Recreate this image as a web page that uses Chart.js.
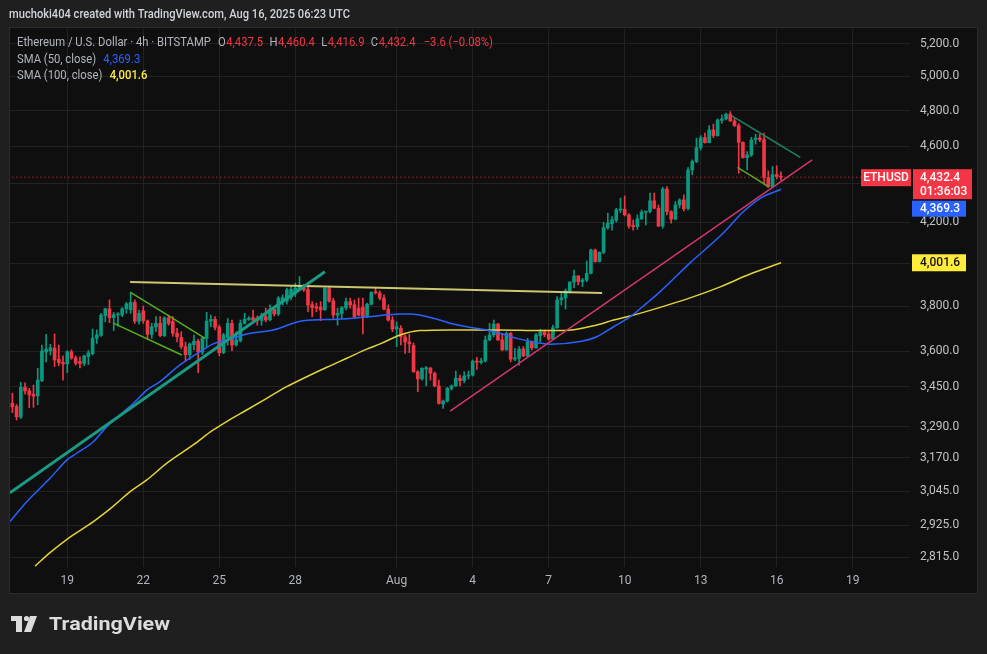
<!DOCTYPE html>
<html>
<head>
<meta charset="utf-8">
<title>ETHUSD 4h - BITSTAMP</title>
<script src="https://cdn.jsdelivr.net/npm/chart.js@4.4.1/dist/chart.umd.min.js"></script>
<style>
  html, body { margin: 0; padding: 0; background: #1f1f1f; }
  #wrap { width: 987px; height: 654px; position: relative; }
</style>
</head>
<body>
<div id="wrap"><canvas id="ethChart"></canvas></div>
<script>
// Candle times are in days counted from "July 0" (Aug 1 = 32), one candle every 4h
const firstCandleDay = 16 + 20 / 24;   // Jul 16, 20:00
const candleStep = 4 / 24;

const opens = [
  3383,3370,3328,3448,3434,3420,3413,3476,3597,3602,
  3614,3566,3552,3546,3598,3572,3556,3548,3577,3590,
  3657,3669,3757,3787,3748,3760,3760,3787,3783,3816,
  3731,3778,3733,3673,3706,3722,3668,3747,3730,3678,
  3660,3620,3585,3628,3644,3596,3656,3732,3740,3706,
  3594,3660,3722,3628,3645,3722,3739,3748,3745,3735,
  3752,3738,3786,3764,3818,3822,3840,3860,3876,3892,
  3876,3806,3797,3795,3783,3880,3824,3759,3766,3792,
  3820,3806,3790,3795,3754,3808,3866,3860,3836,3786,
  3737,3697,3700,3662,3640,3625,3513,3483,3524,3528,
  3507,3454,3380,3392,3444,3454,3486,3476,3495,3499,
  3558,3553,3558,3649,3671,3719,3649,3606,3678,3566,
  3570,3610,3580,3641,3615,3668,3685,3675,3653,3703,
  3828,3838,3869,3910,3939,3912,3920,3951,4063,4007,
  4052,4173,4193,4210,4262,4266,4237,4184,4178,4217,
  4251,4255,4309,4271,4181,4370,4254,4216,4288,4314,
  4270,4471,4516,4592,4647,4619,4690,4658,4744,4752,
  4779,4741,4714,4621,4537,4552,4636,4645,4636,4430,
  4383,4446,4437.5
];
const highs = [
  3424,3378,3469,3467,3444,3457,3528,3627,3674,3630,
  3675,3627,3580,3603,3606,3580,3576,3584,3603,3697,
  3693,3767,3790,3828,3771,3770,3793,3816,3859,3828,
  3782,3800,3737,3722,3752,3752,3752,3759,3752,3700,
  3685,3640,3636,3670,3652,3663,3771,3759,3752,3714,
  3678,3744,3737,3685,3737,3767,3752,3782,3755,3767,
  3790,3805,3797,3843,3851,3882,3889,3905,3936,3900,
  3897,3820,3813,3820,3884,3887,3836,3790,3797,3836,
  3836,3828,3836,3836,3813,3866,3882,3869,3851,3805,
  3752,3729,3712,3671,3674,3636,3518,3530,3535,3532,
  3512,3478,3396,3448,3458,3516,3499,3513,3516,3563,
  3574,3570,3666,3722,3737,3722,3678,3685,3682,3613,
  3620,3620,3656,3645,3678,3696,3693,3687,3714,3843,
  3859,3878,3912,3967,3941,3928,4010,4068,4067,4054,
  4200,4246,4228,4271,4323,4334,4244,4211,4237,4263,
  4257,4349,4349,4287,4380,4383,4258,4305,4319,4340,
  4483,4525,4644,4658,4672,4714,4723,4752,4775,4785,
  4794,4756,4725,4624,4570,4649,4666,4666,4672,4466,
  4489,4493,4460.4
];
const lows = [
  3345,3316,3322,3420,3365,3367,3377,3472,3555,3584,
  3535,3538,3478,3509,3566,3541,3529,3539,3543,3584,
  3634,3664,3729,3725,3690,3710,3752,3767,3767,3722,
  3719,3722,3652,3656,3685,3663,3664,3714,3666,3641,
  3610,3556,3565,3606,3509,3586,3617,3707,3693,3580,
  3590,3627,3603,3622,3640,3719,3735,3729,3714,3714,
  3729,3733,3755,3757,3805,3808,3828,3843,3869,3866,
  3774,3752,3774,3734,3780,3817,3744,3714,3744,3782,
  3790,3744,3755,3675,3747,3805,3855,3828,3782,3732,
  3685,3620,3627,3591,3594,3510,3430,3478,3455,3478,
  3450,3380,3362,3388,3437,3452,3454,3467,3483,3495,
  3523,3546,3554,3646,3662,3647,3603,3604,3555,3560,
  3541,3577,3577,3606,3612,3641,3663,3648,3651,3700,
  3805,3786,3859,3884,3897,3889,3912,3949,4005,4005,
  4044,4165,4161,4200,4249,4232,4170,4160,4165,4214,
  4186,4247,4268,4178,4170,4237,4195,4212,4272,4257,
  4262,4445,4510,4579,4616,4617,4647,4655,4728,4746,
  4737,4709,4453,4534,4471,4543,4611,4625,4395,4378,
  4378,4423,4416.9
];
const closes = [
  3369,3329,3448,3433,3417,3412,3478,3601,3609,3615,
  3563,3551,3546,3598,3571,3549,3548,3580,3593,3657,
  3671,3759,3787,3747,3761,3764,3787,3810,3816,3732,
  3767,3734,3674,3707,3722,3668,3747,3722,3678,3663,
  3620,3585,3632,3644,3598,3656,3732,3740,3705,3594,
  3671,3722,3627,3649,3722,3740,3745,3737,3735,3752,
  3737,3786,3764,3836,3838,3874,3877,3882,3894,3874,
  3805,3793,3790,3782,3882,3823,3759,3767,3793,3820,
  3805,3752,3759,3752,3808,3862,3860,3836,3786,3737,
  3697,3707,3663,3640,3632,3513,3483,3528,3530,3507,
  3454,3383,3392,3444,3454,3486,3476,3495,3499,3558,
  3553,3558,3649,3671,3719,3649,3606,3678,3566,3572,
  3609,3580,3641,3615,3671,3685,3672,3653,3703,3828,
  3838,3869,3910,3939,3912,3920,3951,4063,4007,4052,
  4173,4195,4212,4263,4266,4237,4181,4178,4217,4251,
  4255,4309,4271,4181,4370,4254,4216,4288,4314,4268,
  4471,4516,4592,4647,4619,4690,4658,4746,4752,4779,
  4741,4714,4621,4537,4552,4634,4645,4636,4430,4383,
  4446,4436,4432.4
];

// SMA curves (day, price)
const sma50Days = [16.74,17.40,17.79,18.32,18.98,19.37,20.03,20.56,21.08,21.61,22.14,22.66,23.45,24.24,24.76,25.55,26.08,27.13,28.32,29.64,30.95,32.14,32.53,33.45,34.11,34.77,35.56,36.08,36.74,37.66,38.06,39.24,39.90,40.56,41.22,41.87,42.40,43.58,44.84,45.69,46.35,47.17];
const sma50Values = [2937,3008,3044,3093,3161,3187,3231,3290,3336,3383,3437,3472,3542,3598,3632,3656,3675,3693,3734,3740,3752,3764,3764,3745,3723,3707,3693,3678,3656,3635,3630,3642,3663,3707,3752,3813,3866,4001,4140,4254,4322,4369.3];
const sma100Days = [17.73,18.32,19.04,20.03,20.82,21.48,22.14,22.92,23.97,24.76,25.29,26.08,26.87,27.66,28.45,29.24,30.03,30.82,31.35,32.14,32.93,34.11,36.08,37.66,38.58,39.90,40.56,41.22,42.40,43.58,44.77,45.95,47.17];
const sma100Values = [2785,2830,2879,2937,2992,3044,3087,3149,3219,3277,3310,3356,3403,3451,3492,3532,3570,3609,3632,3671,3690,3693,3693,3690,3690,3715,3737,3755,3794,3837,3888,3948,4001.6];

// hand-drawn trend lines: [start, end]
const tealLineDays = [16.74, 29.17],   tealLineValues = [3040, 3959];
const levelLineDays = [21.48, 40.11],  levelLineValues = [3911, 3860];
const flagTopDays = [21.48, 24.44],    flagTopValues = [3864, 3656];
const flagBottomDays = [20.82, 23.52], flagBottomValues = [3723, 3584];
const pinkLineDays = [34.11, 48.40],   pinkLineValues = [3352, 4525];
const wedgeTopDays = [45.23, 47.93],   wedgeTopValues = [4769, 4539];
const wedgeBottomDays = [45.45, 46.68], wedgeBottomValues = [4485, 4382];

const dayTicks = [19, 22, 25, 28, 32, 35, 38, 41, 44, 47, 50];
const dayLabels = ['19', '22', '25', '28', 'Aug', '4', '7', '10', '13', '16', '19'];
const priceTicks = [2815, 2925, 3045, 3170, 3290, 3450, 3600, 3800, 4000, 4200, 4400, 4600, 4800, 5000, 5200];

const UP = '#089981';
const DOWN = '#f23645';
const TEXT = '#b2b5be';

Chart.defaults.font.family = 'Roboto, "Liberation Sans", sans-serif';

const last = closes.length - 1;
const candleDays = opens.map((o, i) => firstCandleDay + i * candleStep);
const candleColors = opens.map((o, i) => closes[i] >= o ? UP : DOWN);

function fmt(v) {
    return v.toLocaleString('en-US', { minimumFractionDigits: 1, maximumFractionDigits: 1 });
}

function lineSet(days, values, color, width, order, dash) {
    return {
        type: 'line',
        data: days.map((d, i) => ({ x: d, y: values[i] })),
        borderColor: color,
        borderWidth: width,
        borderDash: dash || [],
        pointRadius: 0,
        fill: false,
        cubicInterpolationMode: 'monotone',
        order: order
    };
}

function box(ctx, x, y, w, h, bg) {
    ctx.fillStyle = bg;
    ctx.fillRect(x, y, w, h);
}

// text squeezed (or stretched) sideways to a given width, keeps the height
function fitText(ctx, text, x, y, width) {
    const w = ctx.measureText(text).width;
    ctx.save();
    ctx.translate(x, y);
    ctx.scale(width / w, 1);
    ctx.fillText(text, 0, 0);
    ctx.restore();
}

// background, header, legend, price labels and logo
const tvDecor = {
    id: 'tvDecor',
    beforeDraw(chart) {
        const ctx = chart.ctx;
        ctx.save();
        ctx.fillStyle = '#1f1f1f';
        ctx.fillRect(0, 0, chart.width, chart.height);
        ctx.fillStyle = '#0f0f0f';
        ctx.fillRect(10, 28, 967, 565);
        ctx.strokeStyle = '#2c2c2c';
        ctx.lineWidth = 1;
        ctx.strokeRect(9.5, 27.5, 968, 566);
        ctx.restore();
    },
    afterDraw(chart) {
        const ctx = chart.ctx;
        const yScale = chart.scales.y;
        ctx.save();
        ctx.textBaseline = 'middle';

        // header
        ctx.font = '500 13px Roboto';
        ctx.fillStyle = '#d1d4dc';
        fitText(ctx, 'muchoki404 created with TradingView.com, Aug 16, 2025 06:23 UTC', 9, 15, 341);

        // legend, squeezed as one block so line 1 spans like the original
        const change = closes[last] - closes[last - 1];
        const pct = change / closes[last - 1] * 100;
        const sign = (v, d) => (v < 0 ? '\u2212' : '+') + Math.abs(v).toFixed(d);
        const parts = [
            ['Ethereum / U.S. Dollar \u00b7 4h \u00b7 BITSTAMP', TEXT, 8],
            ['O', TEXT, 0.5], [fmt(opens[last]), DOWN, 7],
            ['H', TEXT, 0.5], [fmt(highs[last]), DOWN, 7],
            ['L', TEXT, 0.5], [fmt(lows[last]), DOWN, 7],
            ['C', TEXT, 0.5], [fmt(closes[last]), DOWN, 9],
            [sign(change, 1) + ' (' + sign(pct, 2) + '%)', DOWN, 0]
        ];
        ctx.font = '12.5px Roboto';
        let total = 0;
        parts.forEach(p => { total += ctx.measureText(p[0]).width + p[2]; });
        ctx.translate(17, 0);
        ctx.scale(476 / total, 1);
        let x = 0;
        parts.forEach(p => {
            ctx.fillStyle = p[1];
            ctx.fillText(p[0], x, 43);
            x += ctx.measureText(p[0]).width + p[2];
        });
        ctx.fillStyle = TEXT;
        ctx.fillText('SMA (50, close)', 0, 59.5);
        let w = ctx.measureText('SMA (50, close)').width;
        ctx.fillStyle = '#2962ff';
        ctx.fillText(fmt(sma50Values[sma50Values.length - 1]), w + 8, 59.5);
        ctx.fillStyle = TEXT;
        ctx.fillText('SMA (100, close)', 0, 76);
        w = ctx.measureText('SMA (100, close)').width;
        ctx.fillStyle = '#ffeb3b';
        ctx.font = '500 12.5px Roboto';
        ctx.fillText(fmt(sma100Values[sma100Values.length - 1]), w + 8, 76);
        ctx.setTransform(1, 0, 0, 1, 0, 0);
        ctx.scale(chart.currentDevicePixelRatio, chart.currentDevicePixelRatio);

        // price labels on the right axis
        const py = yScale.getPixelForValue(closes[last]);
        box(ctx, 861, py - 8, 50, 17, DOWN);
        box(ctx, 913, py - 8, 59, 30, DOWN);
        ctx.fillStyle = '#ffffff';
        ctx.font = '500 12px Roboto';
        ctx.textAlign = 'center';
        ctx.fillText('ETHUSD', 886, py + 0.5);
        ctx.textAlign = 'left';
        ctx.fillText(fmt(closes[last]), 920, py + 0.5);
        ctx.fillText('01:36:03', 920, py + 14.5);

        const by = Math.max(yScale.getPixelForValue(sma50Values[sma50Values.length - 1]) - 8, py + 23.5);
        box(ctx, 912, by, 54, 16, '#2962ff');
        ctx.fillStyle = '#ffffff';
        ctx.fillText(fmt(sma50Values[sma50Values.length - 1]), 920, by + 8.5);

        const yy = yScale.getPixelForValue(sma100Values[sma100Values.length - 1]);
        box(ctx, 912, yy - 8.5, 54, 17, '#ffeb3b');
        ctx.fillStyle = '#131313';
        ctx.fillText(fmt(sma100Values[sma100Values.length - 1]), 920, yy + 0.5);

        // TradingView logo
        ctx.fillStyle = '#dcdcdc';
        ctx.fillRect(11, 616, 11, 5);
        ctx.fillRect(16, 616, 6, 16);
        ctx.beginPath();
        ctx.arc(26.5, 618.5, 2.6, 0, Math.PI * 2);
        ctx.fill();
        ctx.beginPath();
        ctx.moveTo(30, 616);
        ctx.lineTo(37, 616);
        ctx.lineTo(31, 632);
        ctx.lineTo(24, 632);
        ctx.closePath();
        ctx.fill();
        ctx.font = 'bold 19px Roboto';
        fitText(ctx, 'TradingView', 49, 625, 121);
        ctx.restore();
    }
};

new Chart(document.getElementById('ethChart'), {
    type: 'bar',
    data: {
        datasets: [
            // wicks
            {
                data: candleDays.map((d, i) => ({ x: d, y: [lows[i], highs[i]] })),
                backgroundColor: candleColors,
                barThickness: 1,
                grouped: false,
                order: 4
            },
            // bodies
            {
                data: candleDays.map((d, i) => ({ x: d, y: [opens[i], closes[i]] })),
                backgroundColor: candleColors,
                barThickness: 3,
                minBarLength: 1,
                grouped: false,
                order: 3
            },
            lineSet([candleDays[0], 52.3], [closes[last], closes[last]], DOWN, 1, 6, [1, 3]),
            lineSet(sma50Days, sma50Values, '#2962ff', 1.5, 2),
            lineSet(sma100Days, sma100Values, '#e3d23a', 1.5, 2),
            lineSet(tealLineDays, tealLineValues, '#1a9a84', 3, 1),
            lineSet(levelLineDays, levelLineValues, 'rgba(228,218,120,0.9)', 2, 1),
            lineSet(flagTopDays, flagTopValues, '#52b01c', 1.5, 1),
            lineSet(flagBottomDays, flagBottomValues, '#52b01c', 1.5, 1),
            lineSet(pinkLineDays, pinkLineValues, '#d3366c', 1.5, 1),
            lineSet(wedgeTopDays, wedgeTopValues, '#1d7f60', 1.5, 1),
            lineSet(wedgeBottomDays, wedgeBottomValues, '#5f9f2f', 1.5, 1)
        ]
    },
    options: {
        responsive: true,
        maintainAspectRatio: false,
        animation: false,
        layout: { padding: { left: 10, right: 10, top: 29, bottom: 61 } },
        plugins: {
            legend: { display: false },
            tooltip: { enabled: false }
        },
        scales: {
            x: {
                type: 'linear',
                min: 16.74,
                max: 52.26,
                offset: false,
                afterBuildTicks: s => { s.ticks = dayTicks.map(v => ({ value: v })); },
                afterFit: s => { s.height = 26; },
                grid: { color: '#222222', drawTicks: false, offset: false },
                border: { display: false },
                ticks: {
                    color: TEXT,
                    font: { size: 12 },
                    padding: 7,
                    autoSkip: false,
                    maxRotation: 0,
                    callback: v => dayLabels[dayTicks.indexOf(v)]
                }
            },
            y: {
                type: 'logarithmic',
                position: 'right',
                min: 2782,
                max: 5291,
                afterBuildTicks: s => { s.ticks = priceTicks.map(v => ({ value: v })); },
                afterFit: s => { s.width = 67; },
                grid: { color: '#222222', drawTicks: false },
                border: { display: false },
                ticks: {
                    color: '#c3c3c3',
                    font: { size: 12 },
                    padding: 10,
                    autoSkip: false,
                    callback: v => fmt(v)
                }
            }
        }
    },
    plugins: [tvDecor]
});
</script>
</body>
</html>
